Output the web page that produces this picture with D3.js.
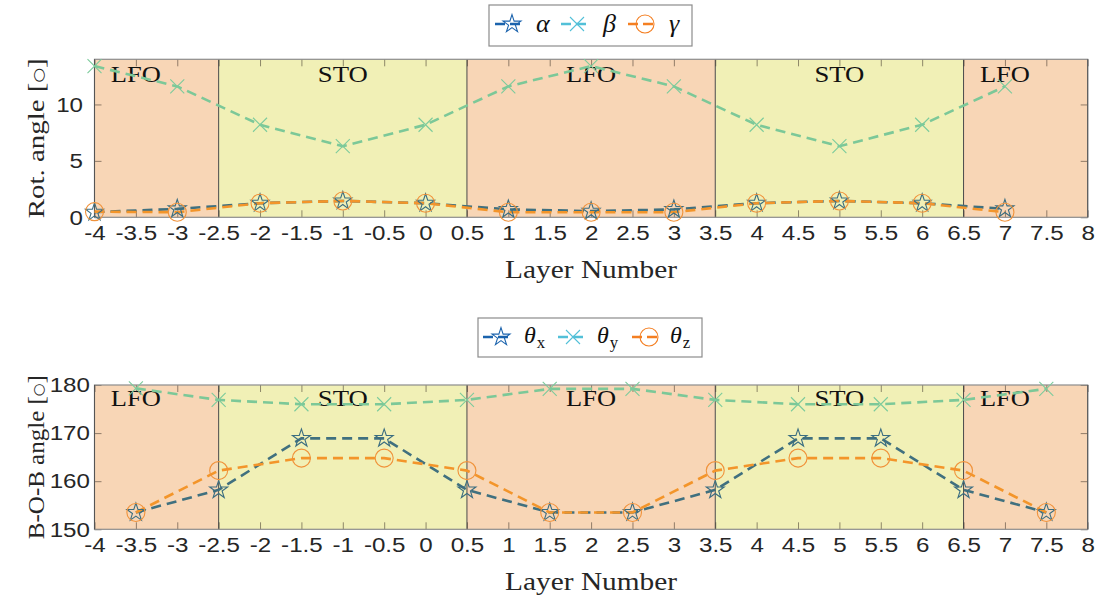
<!DOCTYPE html>
<html>
<head>
<meta charset="utf-8">
<script src="https://cdn.jsdelivr.net/npm/d3@7"></script>
<style>
  html, body { margin: 0; padding: 0; background: #ffffff; }
  svg { display: block; }
</style>
</head>
<body>
<svg id="chart" width="1103" height="601"></svg>
<script>
// ---- data ----
const xTicks = [-4, -3.5, -3, -2.5, -2, -1.5, -1, -0.5, 0, 0.5, 1, 1.5, 2, 2.5, 3, 3.5, 4, 4.5, 5, 5.5, 6, 6.5, 7, 7.5, 8];
const xTickLabels = ["-4", "-3.5", "-3", "-2.5", "-2", "-1.5", "-1", "-0.5", "0", "0.5", "1", "1.5", "2", "2.5", "3", "3.5", "4", "4.5", "5", "5.5", "6", "6.5", "7", "7.5", "8"];

// layer regions (material, start, end, label position)
const regionNames = ["LFO", "STO", "LFO", "STO", "LFO"];
const regionStart = [-4, -2.5, 0.5, 3.5, 6.5];
const regionEnd = [-2.5, 0.5, 3.5, 6.5, 8];
const regionLabelAt = [-3.5, -1, 2, 5, 7];

// octahedral rotation angles per layer
const rotLayers = [-4, -3, -2, -1, 0, 1, 2, 3, 4, 5, 6, 7];
const alphaVals = [0.45, 0.75, 1.25, 1.45, 1.25, 0.7, 0.55, 0.7, 1.25, 1.45, 1.25, 0.75];
const betaVals = [13.4, 11.6, 8.2, 6.3, 8.2, 11.6, 13.4, 11.6, 8.2, 6.3, 8.2, 11.6];
const gammaVals = [0.5, 0.45, 1.25, 1.45, 1.25, 0.45, 0.45, 0.45, 1.25, 1.45, 1.25, 0.45];
const rotTicks = [0, 5, 10];

// B-O-B bond angles per interlayer position
const bobLayers = [-3.5, -2.5, -1.5, -0.5, 0.5, 1.5, 2.5, 3.5, 4.5, 5.5, 6.5, 7.5];
const thetaX = [153.5, 158.2, 168.9, 168.9, 158.2, 153.5, 153.5, 158.2, 168.9, 168.9, 158.2, 153.5];
const thetaY = [179.3, 176.9, 176.0, 176.0, 176.9, 179.2, 179.2, 176.9, 176.0, 176.0, 176.9, 179.2];
const thetaZ = [153.5, 162.2, 164.8, 164.8, 162.2, 153.5, 153.5, 162.2, 164.8, 164.8, 162.2, 153.5];
const bobTicks = [150, 160, 170, 180];

// ---- styles ----
const regionFill = { LFO: "#f8d6b6", STO: "#f1f0b6" };
const serif = "'Liberation Serif', 'DejaVu Serif', serif";
const sans = "'Liberation Sans', Arial, sans-serif";

const styleA = { line: "#40707f", marker: "#3a6d80", legend: "#1b63ad", kind: "star" };
const styleB = { line: "#7cc898", marker: "#7ccb9c", legend: "#52c0d8", kind: "x" };
const styleC = { line: "#f3952a", marker: "#f0923a", legend: "#f47f22", kind: "circle" };

const svg = d3.select("#chart");

const x = d3.scaleLinear().domain([-4, 8]).range([94.5, 1087.7]);

function markerPath(kind) {
  if (kind === "star") return d3.symbol(d3.symbolStar, 100)();
  if (kind === "x") { const s = 7; return `M${-s},${-s}L${s},${s}M${-s},${s}L${s},${-s}`; }
  return null;
}

function drawMarker(g, kind, cx, cy, color) {
  if (kind === "circle") {
    g.append("circle").attr("cx", cx).attr("cy", cy).attr("r", 9)
      .attr("fill", "none").attr("stroke", color).attr("stroke-width", 1.1);
  } else {
    g.append("path").attr("d", markerPath(kind))
      .attr("transform", `translate(${cx},${cy})`)
      .attr("fill", "none").attr("stroke", color).attr("stroke-width", 1.1);
  }
}

function panel(opts) {
  const { y, yTicks, series, xs, labelText, labelSize, regionBaseline } = opts;
  const g = svg.append("g");
  const [yBottom, yTop] = y.range();
  const x0 = x.range()[0], x1 = x.range()[1];

  // material regions
  regionNames.forEach((name, i) => {
    g.append("rect")
      .attr("x", x(regionStart[i])).attr("y", yTop)
      .attr("width", x(regionEnd[i]) - x(regionStart[i]))
      .attr("height", yBottom - yTop)
      .attr("fill", regionFill[name]);
  });
  // interfaces
  regionStart.slice(1).forEach(v => {
    g.append("line").attr("x1", x(v)).attr("x2", x(v))
      .attr("y1", yTop).attr("y2", yBottom)
      .attr("stroke", "#4a4a4a").attr("stroke-width", 1);
  });

  // axes (ticks inward on all four sides)
  const tickLen = 7;
  const bottomAxis = d3.axisBottom(x).tickValues(xTicks)
    .tickFormat((d, i) => xTickLabels[i]).tickSizeInner(-tickLen).tickSizeOuter(0).tickPadding(16);
  const ga = g.append("g").attr("transform", `translate(0,${yBottom})`).call(bottomAxis);
  const topAxis = d3.axisTop(x).tickValues(xTicks).tickFormat("").tickSizeInner(-tickLen).tickSizeOuter(0);
  const gt = g.append("g").attr("transform", `translate(0,${yTop})`).call(topAxis);
  const leftAxis = d3.axisLeft(y).tickValues(yTicks).tickSizeInner(-tickLen).tickSizeOuter(0).tickPadding(opts.yPad);
  const gl = g.append("g").attr("transform", `translate(${x0},0)`).call(leftAxis);
  const rightAxis = d3.axisRight(y).tickValues(yTicks).tickFormat("").tickSizeInner(-tickLen).tickSizeOuter(0);
  const gr = g.append("g").attr("transform", `translate(${x1},0)`).call(rightAxis);
  [ga, gt, gl, gr].forEach(a => {
    a.select(".domain").remove();
    a.selectAll(".tick line").attr("stroke", "rgba(60,50,40,0.55)").attr("stroke-width", 1);
    a.selectAll(".tick text").attr("font-family", sans).attr("font-size", 21).attr("fill", "#262626")
      .attr("transform", "scale(1.15,1)");
  });
  ga.selectAll(".tick text").attr("dy", "0.32em");

  // box
  g.append("rect").attr("x", x0).attr("y", yTop)
    .attr("width", x1 - x0).attr("height", yBottom - yTop)
    .attr("fill", "none").attr("stroke", "#8c8c8c").attr("stroke-width", 1.2);
  g.append("line").attr("x1", x0).attr("x2", x0).attr("y1", yTop).attr("y2", yBottom)
    .attr("stroke", "#555").attr("stroke-width", 1);
  g.append("line").attr("x1", x1).attr("x2", x1).attr("y1", yTop).attr("y2", yBottom)
    .attr("stroke", "#555").attr("stroke-width", 1);

  // region labels
  regionNames.forEach((name, i) => {
    g.append("text").attr("x", x(regionLabelAt[i])).attr("y", yTop + regionBaseline)
      .attr("text-anchor", "middle").attr("font-family", serif).attr("font-size", 23)
      .attr("fill", "#111").attr("textLength", 50).attr("lengthAdjust", "spacingAndGlyphs")
      .text(name);
  });

  // series lines
  const line = d3.line().x(d => x(d[0])).y(d => y(d[1]));
  series.forEach(s => {
    g.append("path").datum(xs.map((v, i) => [v, s.values[i]]))
      .attr("d", line).attr("fill", "none")
      .attr("stroke", s.style.line).attr("stroke-width", 2.6)
      .attr("stroke-dasharray", "10,6");
  });
  // markers
  series.forEach(s => {
    const mg = g.append("g");
    xs.forEach((v, i) => drawMarker(mg, s.style.kind, x(v), y(s.values[i]), s.style.marker));
  });

  // axis titles
  g.append("text").attr("x", (x0 + x1) / 2).attr("y", yBottom + 61)
    .attr("text-anchor", "middle").attr("font-family", serif).attr("font-size", 25)
    .attr("fill", "#262626").attr("textLength", 172).attr("lengthAdjust", "spacingAndGlyphs")
    .text("Layer Number");
  const yl = g.append("text")
    .attr("transform", `translate(44,${(yTop + yBottom) / 2}) rotate(-90)`)
    .attr("text-anchor", "middle").attr("font-family", serif).attr("font-size", 24)
    .attr("fill", "#262626").attr("textLength", labelSize).attr("lengthAdjust", "spacingAndGlyphs");
  yl.append("tspan").text(labelText + " [");
  yl.append("tspan").attr("font-family", "'DejaVu Sans', sans-serif").attr("font-size", 14)
    .attr("dy", -1).text("○");
  yl.append("tspan").attr("dy", 1).text("]");
}

function legend(box, items) {
  const g = svg.append("g");
  g.append("rect").attr("x", box.x).attr("y", box.y).attr("width", box.w).attr("height", box.h)
    .attr("fill", "#ffffff").attr("stroke", "#8c8c8c").attr("stroke-width", 1.2);
  items.forEach(it => {
    g.append("line").attr("x1", it.x1).attr("x2", it.x2).attr("y1", box.lineY).attr("y2", box.lineY)
      .attr("stroke", it.style.legend).attr("stroke-width", 2.6).attr("stroke-dasharray", "10,5");
    drawMarker(g, it.style.kind, it.mx, box.lineY, it.style.legend);
    const t = g.append("text").attr("x", it.tx).attr("y", box.textY)
      .attr("font-family", serif).attr("font-size", box.fs).attr("fill", "#111");
    t.append("tspan").attr("font-style", "italic").text(it.sym);
    if (it.sub) {
      t.append("tspan").attr("font-size", box.fs * 0.7).attr("dy", 5).attr("dx", 1).text(it.sub);
    }
  });
}

// ---- top panel: rotation angles ----
const yRot = d3.scaleLinear().domain([0, 14]).range([217.3, 59.3]);
panel({
  y: yRot, yTicks: rotTicks, xs: rotLayers, yPad: 10,
  labelText: "Rot.  angle", labelSize: 160, regionBaseline: 23,
  series: [
    { values: betaVals, style: styleB },
    { values: alphaVals, style: styleA },
    { values: gammaVals, style: styleC }
  ]
});

// ---- bottom panel: B-O-B angles ----
const yBob = d3.scaleLinear().domain([150, 180]).range([529.3, 385]);
panel({
  y: yBob, yTicks: bobTicks, xs: bobLayers, yPad: 4,
  labelText: "B-O-B angle", labelSize: 164, regionBaseline: 21,
  series: [
    { values: thetaY, style: styleB },
    { values: thetaX, style: styleA },
    { values: thetaZ, style: styleC }
  ]
});

legend({ x: 489, y: 5, w: 203, h: 41, lineY: 24, textY: 32, fs: 26 }, [
  { style: styleA, x1: 495, x2: 525, mx: 512, tx: 536, sym: "α" },
  { style: styleB, x1: 561, x2: 591, mx: 577, tx: 603, sym: "β" },
  { style: styleC, x1: 628, x2: 658, mx: 645, tx: 669, sym: "γ" }
]);

legend({ x: 478, y: 318, w: 224, h: 39, lineY: 337, textY: 343, fs: 24 }, [
  { style: styleA, x1: 483, x2: 512, mx: 501, tx: 524, sym: "θ", sub: "x" },
  { style: styleB, x1: 558, x2: 587, mx: 573, tx: 597, sym: "θ", sub: "y" },
  { style: styleC, x1: 632, x2: 661, mx: 649, tx: 670, sym: "θ", sub: "z" }
]);
</script>
</body>
</html>
